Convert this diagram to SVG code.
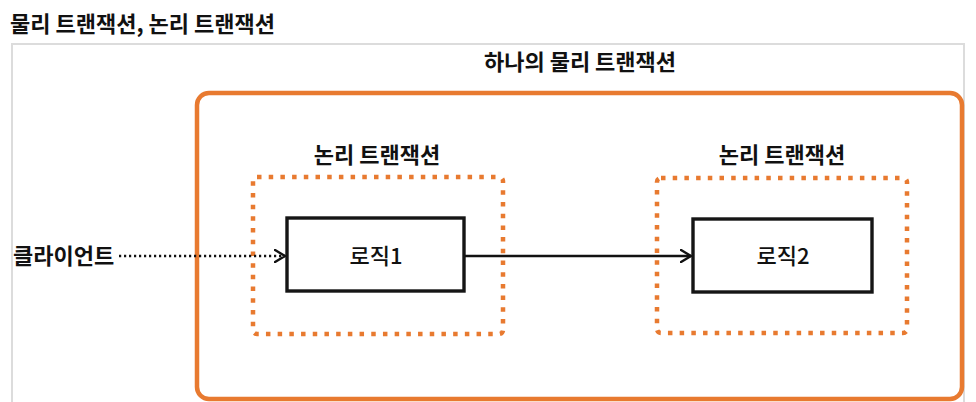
<svg xmlns="http://www.w3.org/2000/svg" width="976" height="402" viewBox="0 0 976 402">
<style>
text{font-family:"Noto Sans CJK KR","Noto Sans",sans-serif;fill:#111;}
.b{font-weight:bold;}
.lbl{font-size:22px;font-weight:bold;text-anchor:middle;}
.logic{fill:#fff;stroke:#151515;stroke-width:3.4;}
.dot{fill:none;stroke:#E87A30;stroke-width:4.5;stroke-dasharray:4.5 7.2;}
</style>
<defs>
<marker id="arr" viewBox="0 0 12 14" refX="11" refY="7" markerWidth="12" markerHeight="14" markerUnits="userSpaceOnUse" orient="auto">
<path d="M1,1 L11,7 L1,13" fill="none" stroke="#111" stroke-width="2.4" stroke-linecap="round" stroke-linejoin="round"/>
</marker>
</defs>
<rect width="976" height="402" fill="#fff"/>
<text class="b" x="10" y="32" font-size="22">물리 트랜잭션, 논리 트랜잭션</text>
<rect x="12" y="44" width="952" height="370" fill="none" stroke="#dcdcdc" stroke-width="2"/>
<g id="physical">
<rect x="197" y="93" width="765" height="306" rx="12" fill="none" stroke="#E87A30" stroke-width="4.5"/>
<text class="lbl" x="580" y="70" font-size="23">하나의 물리 트랜잭션</text>
</g>
<g id="logical1">
<rect class="dot" x="253" y="177" width="250" height="157" rx="4"/>
<text class="lbl" x="377" y="163">논리 트랜잭션</text>
</g>
<g id="logical2">
<rect class="dot" x="657" y="178" width="250" height="155" rx="4"/>
<text class="lbl" x="782" y="163">논리 트랜잭션</text>
</g>
<g id="client">
<text class="b" x="13" y="264" font-size="22">클라이언트</text>
</g>
<g id="logic1">
<rect class="logic" x="287" y="218" width="177" height="73"/>
<text x="376" y="264" font-size="22" font-weight="500" text-anchor="middle">로직1</text>
</g>
<g id="logic2">
<rect class="logic" x="693" y="219" width="179" height="73"/>
<text x="783" y="264" font-size="22" font-weight="500" text-anchor="middle">로직2</text>
</g>
<g id="connectors">
<line x1="119" y1="256" x2="285" y2="256" stroke="#111" stroke-width="2.4" stroke-dasharray="2.2 2.8" marker-end="url(#arr)"/>
<line x1="465" y1="256" x2="691" y2="256" stroke="#111" stroke-width="2.4" marker-end="url(#arr)"/>
</g>
</svg>
